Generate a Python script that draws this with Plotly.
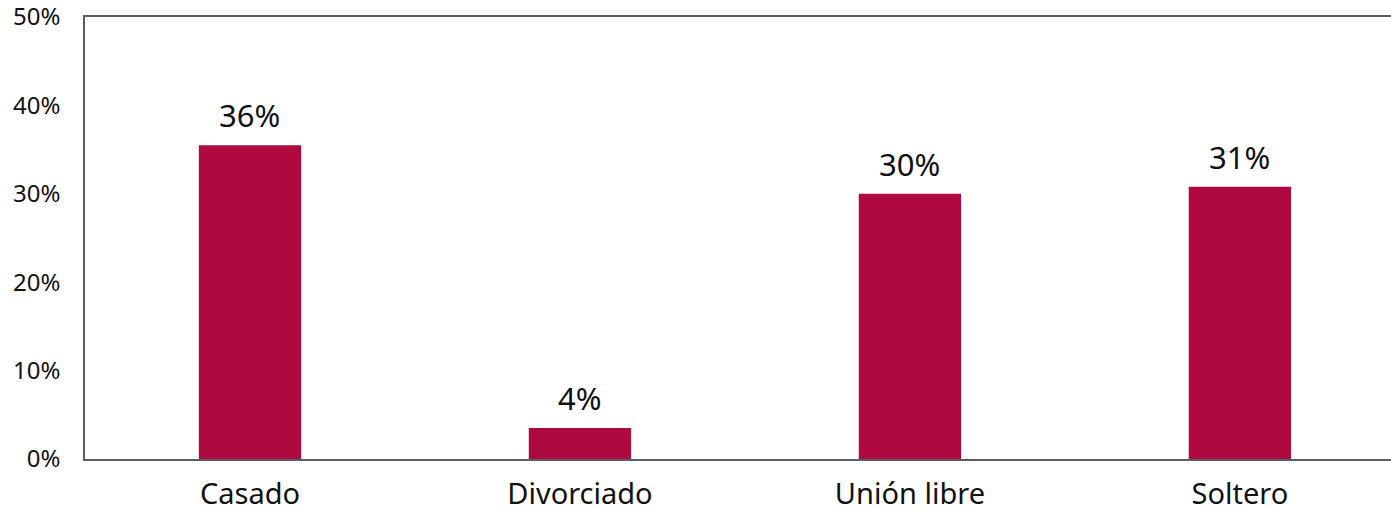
"""Estado civil: distribución porcentual."""

import plotly.graph_objects as go

categories = ["Casado", "Divorciado", "Unión libre", "Soltero"]
values = [35.5, 3.5, 30.0, 30.8]
labels = ["36%", "4%", "30%", "31%"]
y_ticks = [0, 10, 20, 30, 40, 50]
y_tick_labels = ["0%", "10%", "20%", "30%", "40%", "50%"]

BAR_COLOR = "#AE0A40"
LINE_COLOR = "#5A5F66"
FONT = "'Noto Sans', 'Open Sans', sans-serif"

fig = go.Figure(
    go.Bar(
        x=categories,
        y=values,
        marker=dict(color=BAR_COLOR, line=dict(width=0)),
        hoverinfo="skip",
    )
)

for cat, val, lab in zip(categories, values, labels):
    fig.add_annotation(
        x=cat,
        y=val,
        text=lab,
        showarrow=False,
        yanchor="bottom",
        yshift=7,
        font=dict(size=31, color="#111111", family=FONT),
    )

fig.update_layout(
    width=1391,
    height=510,
    margin=dict(l=85, r=0, t=17, b=51),
    paper_bgcolor="white",
    plot_bgcolor="white",
    bargap=0.69,
    showlegend=False,
    font=dict(family=FONT, color="#111111"),
    xaxis=dict(
        range=[-0.5, 3.458],
        showline=True,
        mirror=True,
        linecolor=LINE_COLOR,
        linewidth=1.5,
        showgrid=False,
        ticks="",
        tickfont=dict(size=29),
        ticklabelstandoff=8,
        automargin=False,
    ),
    yaxis=dict(
        range=[0, 50],
        tickvals=y_ticks,
        ticktext=y_tick_labels,
        showline=True,
        mirror=False,
        linecolor=LINE_COLOR,
        linewidth=1.5,
        showgrid=False,
        zeroline=False,
        ticks="",
        tickfont=dict(size=24),
        ticklabelstandoff=18,
        ticklabeloverflow="allow",
        automargin=False,
    ),
)

# drop the default 8px body margin so the figure fills the window exactly
fig.write_html(
    "out.html",
    config={"displayModeBar": False},
    post_script="document.body.style.margin = '0';",
)
